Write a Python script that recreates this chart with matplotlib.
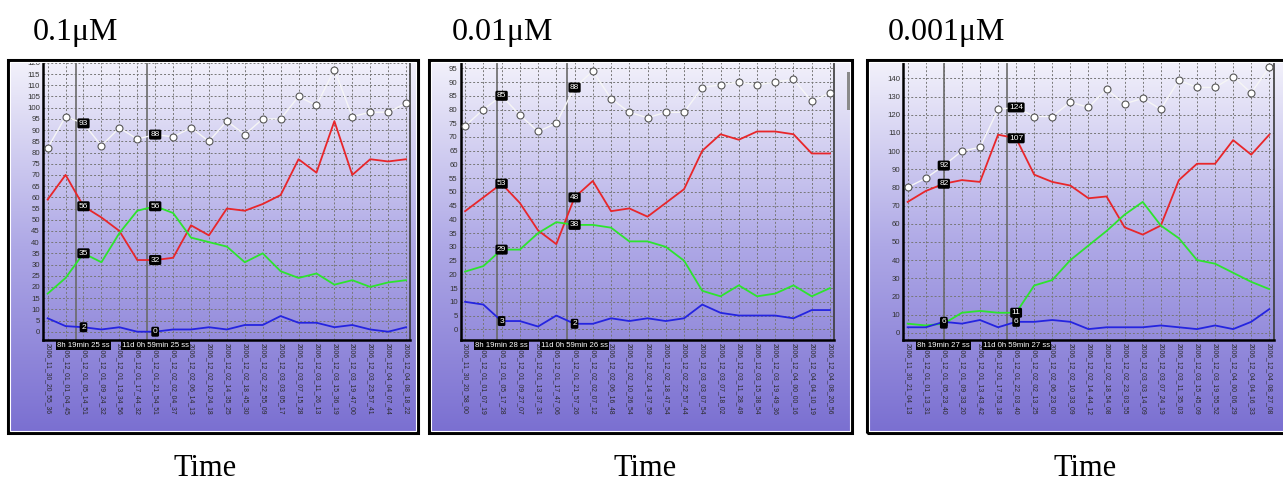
import numpy as np
import matplotlib
matplotlib.use('Agg')
import matplotlib.pyplot as plt
import matplotlib.transforms as mtransforms
from matplotlib.patches import Rectangle
from matplotlib.colors import LinearSegmentedColormap

W, H = 1283, 483

titles = ['0.1\u03bcM', '0.01\u03bcM', '0.001\u03bcM']

dates_1 = ['2006_11_30_20_55_36', '2006_12_01_01_04_45', '2006_12_01_05_14_51', '2006_12_01_09_24_32',
           '2006_12_01_13_34_56', '2006_12_01_17_44_32', '2006_12_01_21_54_51', '2006_12_02_02_04_37',
           '2006_12_02_06_14_13', '2006_12_02_10_24_18', '2006_12_02_14_35_25', '2006_12_02_18_45_30',
           '2006_12_02_22_55_09', '2006_12_03_03_05_17', '2006_12_03_07_15_28', '2006_12_03_11_26_13',
           '2006_12_03_15_36_19', '2006_12_03_19_47_00', '2006_12_03_23_57_41', '2006_12_04_04_07_44',
           '2006_12_04_08_18_22']
dates_2 = ['2006_11_30_20_58_00', '2006_12_01_01_07_19', '2006_12_01_05_17_28', '2006_12_01_09_27_07',
           '2006_12_01_13_37_31', '2006_12_01_17_47_06', '2006_12_01_21_57_26', '2006_12_02_02_07_12',
           '2006_12_02_06_16_48', '2006_12_02_10_26_54', '2006_12_02_14_37_59', '2006_12_02_18_47_54',
           '2006_12_02_22_57_44', '2006_12_03_03_07_54', '2006_12_03_07_18_02', '2006_12_03_11_28_49',
           '2006_12_03_15_38_54', '2006_12_03_19_49_36', '2006_12_04_00_00_16', '2006_12_04_04_10_19',
           '2006_12_04_08_20_56']
dates_3 = ['2006_11_30_21_04_13', '2006_12_01_01_13_31', '2006_12_01_05_23_40', '2006_12_01_09_33_20',
           '2006_12_01_13_43_42', '2006_12_01_17_53_18', '2006_12_01_22_03_40', '2006_12_02_02_13_25',
           '2006_12_02_06_23_00', '2006_12_02_10_33_09', '2006_12_02_14_44_12', '2006_12_02_18_54_08',
           '2006_12_02_23_03_55', '2006_12_03_03_14_09', '2006_12_03_07_24_19', '2006_12_03_11_35_03',
           '2006_12_03_15_45_09', '2006_12_03_19_55_52', '2006_12_04_00_06_29', '2006_12_04_04_16_33',
           '2006_12_04_08_27_08']

# series: white (markers), red, green, blue
white_1 = [82, 96, 93, 83, 91, 86, 88, 87, 91, 85, 94, 88, 95, 95, 105, 101, 117, 96, 98, 98, 102]
red_1 = [59, 70, 56, 51, 45, 32, 32, 33, 47.5, 43, 55, 54, 57, 61, 77, 71, 94, 70, 77, 76, 77]
green_1 = [17, 24, 35, 31, 44, 54, 56, 53, 42, 40, 38, 31, 35, 27, 24, 26, 21, 23, 20, 22, 23]
blue_1 = [6, 2.5, 2, 1, 2, 0, 0, 1, 1, 2, 1, 3, 3, 7, 4, 4, 2, 3, 1, 0, 2]

white_2 = [74, 80, 85, 78, 72, 75, 88, 94, 84, 79, 77, 79, 79, 88, 89, 90, 89, 90, 91, 83, 86]
red_2 = [43, 48, 53, 46, 36, 31, 48, 54, 43, 44, 41, 46, 51, 65, 71, 69, 72, 72, 71, 64, 64]
green_2 = [21, 23, 29, 29, 35, 39, 38, 38, 37, 32, 32, 30, 25, 14, 12, 16, 12, 13, 16, 12, 15]
blue_2 = [10, 9, 3, 3, 1, 5, 2, 2, 4, 3, 4, 3, 4, 9, 6, 5, 5, 5, 4, 7, 7]

white_3 = [80, 85, 92, 100, 102, 123, 124, 119, 119, 127, 124, 134, 126, 129, 123, 139, 135, 135, 141, 132, 146]
red_3 = [72, 78, 82, 84, 83, 109, 107, 87, 83, 81, 74, 75, 58, 54, 59, 84, 93, 93, 106, 98, 109]
green_3 = [5, 4, 5, 11, 12, 11, 11, 26, 29, 40, 48, 56, 65, 72, 59, 52, 40, 38, 33, 28, 24]
blue_3 = [3, 3, 6, 5, 7, 3, 6, 6, 7, 6, 2, 3, 3, 3, 4, 3, 2, 4, 2, 6, 13]

# cursors (position on the sample axis) and their readouts
cursor_pos_1 = [1.58, 5.55]
cursor_pos_2 = [1.74, 5.57]
cursor_pos_3 = [2.0, 5.5]
cursor_text_1 = ['8h 19min 25 ss', '11d 0h 59min 25 ss']
cursor_text_2 = ['8h 19min 28 ss', '11d 0h 59min 26 ss']
cursor_text_3 = ['8h 19min 27 ss', '11d 0h 59min 27 ss']
tag_idx = [2, 6]

panels = [
    dict(title=titles[0], dates=dates_1, series=[white_1, red_1, green_1, blue_1],
         cursors=cursor_pos_1, ctext=cursor_text_1, tags=[0, 1, 2, 3],
         frame=(8, 60, 418, 433), plot=(43, 62, 410, 340), xlim=(-0.26, 20.22),
         ylim=(-3.7, 120.4), yticks=np.arange(0, 121, 5), title_x=33, time_x=205),
    dict(title=titles[1], dates=dates_2, series=[white_2, red_2, green_2, blue_2],
         cursors=cursor_pos_2, ctext=cursor_text_2, tags=[0, 1, 2, 3],
         frame=(429, 60, 852, 433), plot=(460.7, 62, 834, 340), xlim=(-0.24, 20.22),
         ylim=(-3.9, 97.3), yticks=np.arange(0, 96, 5), title_x=452, time_x=645),
    dict(title=titles[2], dates=dates_3, series=[white_3, red_3, green_3, blue_3],
         cursors=cursor_pos_3, ctext=cursor_text_3, tags=[0, 1, 2, 3],
         frame=(867, 60, 1300, 433), plot=(903.3, 62, 1274, 340), xlim=(-0.24, 20.26),
         ylim=(-4, 149), yticks=np.arange(0, 141, 10), title_x=888, time_x=1085),
]

colors = ['#f6f6f6', '#e8262a', '#2de42d', '#2424e0']
sans = ['Liberation Sans', 'DejaVu Sans']
grad = LinearSegmentedColormap.from_list('g', ['#7a6fd1', '#aea8e6', '#f3f2fb'])


def box(x0, y0, x1, y1):
    return [x0 / W, 1 - y1 / H, (x1 - x0) / W, (y1 - y0) / H]


fig = plt.figure(figsize=(W / 100, H / 100), dpi=100)
fig.patch.set_facecolor('white')

for p in panels:
    fx0, fy0, fx1, fy1 = p['frame']
    bg = fig.add_axes(box(fx0, fy0, fx1, fy1))
    bg.imshow(np.linspace(0, 1, 256).reshape(-1, 1)[::-1], cmap=grad, aspect='auto',
              extent=[0, 1, 0, 1], origin='upper')
    bg.axis('off')
    fig.patches.append(Rectangle((fx0 / W, 1 - fy1 / H), (fx1 - fx0) / W, (fy1 - fy0) / H,
                                 transform=fig.transFigure, fill=False, ec='black', lw=2.2))
    fig.patches.append(Rectangle(((fx0 + 2) / W, 1 - (fy1 - 2) / H), (fx1 - fx0 - 4) / W,
                                 (fy1 - fy0 - 4) / H, transform=fig.transFigure, fill=False,
                                 ec='white', lw=0.8))

    px0, py0, px1, py1 = p['plot']
    ax = fig.add_axes(box(px0, py0, px1, py1))
    ax.set_facecolor('none')
    x = np.arange(len(p['dates']))
    w, r, g, b = p['series']
    ax.plot(x, w, color=colors[0], lw=1.0, marker='o', ms=5, mfc='white', mec='#555555', mew=0.8, zorder=3)
    ax.plot(x, r, color=colors[1], lw=1.3, zorder=3)
    ax.plot(x, g, color=colors[2], lw=1.3, zorder=3)
    ax.plot(x, b, color=colors[3], lw=1.3, zorder=3)

    for c in p['cursors']:
        ax.axvline(c, color='#6a6a6a', lw=1.2, zorder=2)

    for i in tag_idx:
        for k in p['tags']:
            v = p['series'][k][i]
            ax.text(i, v, '%g' % v, color='white', fontsize=6, family=sans, ha='center', va='center',
                    zorder=6, bbox=dict(boxstyle='round,pad=0.18', fc='black', ec='none'))

    trans = mtransforms.blended_transform_factory(ax.transData, ax.transAxes)
    for i, t in zip(tag_idx, p['ctext']):
        ax.text(i, -0.02, t, transform=trans, color='white', fontsize=5.6, family=sans,
                ha='center', va='center', zorder=7, clip_on=False,
                bbox=dict(boxstyle='square,pad=0.12', fc='black', ec='none'))

    ax.set_xlim(*p['xlim'])
    ax.set_ylim(*p['ylim'])
    ax.set_xticks(x)
    ax.set_xticklabels(p['dates'], rotation=-90, fontsize=4.9, family=sans, color='#2a2a2a')
    ax.set_yticks(p['yticks'])
    ax.set_yticklabels([str(v) for v in p['yticks']], fontsize=5.6, family=sans, color='#333333')
    ax.tick_params(length=0, pad=2.2)
    ax.grid(True, color='#777777', linestyle=(0, (2, 2)), lw=0.7, zorder=1)
    ax.set_axisbelow(True)
    ax.spines['top'].set_visible(False)
    ax.spines['left'].set_color('black')
    ax.spines['left'].set_linewidth(1.8)
    ax.spines['bottom'].set_color('black')
    ax.spines['bottom'].set_linewidth(1.8)
    ax.spines['right'].set_color('#3a3a3a')
    ax.spines['right'].set_linewidth(1.2)

    fig.text(p['title_x'] / W, 1 - 40 / H, p['title'], fontsize=23, family='Liberation Serif',
             ha='left', va='baseline')
    fig.text(p['time_x'] / W, 1 - 476 / H, 'Time', fontsize=22, family='Liberation Serif',
             ha='center', va='baseline')

# scroll thumb in the middle chart
fig.patches.append(Rectangle((847 / W, 1 - 110 / H), 3 / W, 38 / H, transform=fig.transFigure,
                             fc='#8a8a8a', ec='none'))

fig.savefig('out.png', dpi=100)
